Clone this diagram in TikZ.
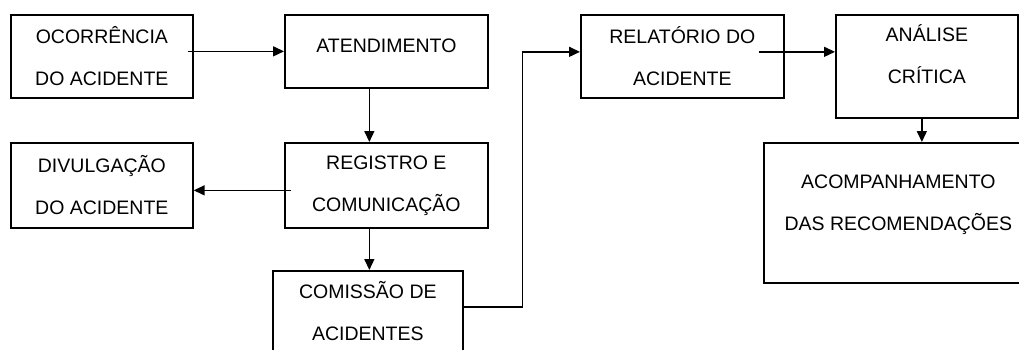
\documentclass[tikz,border=0pt]{standalone}
\usepackage{fontspec}
\setmainfont{Liberation Sans}
\usepackage{tikz}
\usetikzlibrary{arrows.meta,positioning}

\begin{document}
\begin{tikzpicture}[x=1pt,y=-1pt,
  caixa/.style={rectangle,draw,line width=1.7pt,anchor=north west,inner sep=0pt,align=center,font=\fontsize{19.5}{42}\selectfont},
  seta/.style={-{Triangle[length=11pt,width=10pt]},line width=1.5pt}]
\useasboundingbox (0,0) rectangle (1019,349);
\node[caixa,minimum width=182pt,minimum height=83pt] (oc) at (10,14) {OCORRÊNCIA\\DO ACIDENTE};
\node[caixa,minimum width=203pt,minimum height=73pt,text depth=11pt] (at) at (284,14) {ATENDIMENTO};
\node[caixa,minimum width=182pt,minimum height=85pt] (dv) at (10,142) {DIVULGAÇÃO\\DO ACIDENTE};
\node[caixa,minimum width=203pt,minimum height=85pt] (rg) at (284,142) {REGISTRO E\\COMUNICAÇÃO};
\node[caixa,minimum width=190pt,minimum height=80pt] (cm) at (272,270) {COMISSÃO DE\\ACIDENTES};
\node[caixa,minimum width=203pt,minimum height=83pt] (rl) at (580,14) {RELATÓRIO DO\\ACIDENTE};
\node[caixa,minimum width=182pt,minimum height=103pt,text depth=25pt] (an) at (835,14) {ANÁLISE\\CRÍTICA};
\node[caixa,minimum width=269pt,minimum height=140pt,text depth=20pt] (ac) at (763,142) {ACOMPANHAMENTO\\DAS RECOMENDAÇÕES};
% ligacoes
\draw[seta] ([xshift=-6pt]oc.east |- at.west) -- (at.west);
\draw[seta] ([xshift=-17pt]at.south) -- ([xshift=-17pt]at.south |- rg.north);
\draw[seta] ([xshift=7pt,yshift=-5pt]rg.west) -- ([yshift=-5pt]rg.west -| dv.east);
\draw[seta] ([xshift=-17pt]rg.south) -- ([xshift=-17pt]rg.south |- cm.north);
\draw[seta] ([yshift=4pt]cm.east) -- ++(59,0) |- ([yshift=4.5pt]rl.west);
\draw[seta] ([xshift=-26pt,yshift=4.5pt]rl.east) -- ([yshift=4.5pt]rl.east -| an.west);
\draw[seta] ([xshift=-5pt]an.south) -- ([xshift=-5pt]an.south |- ac.north);
\end{tikzpicture}
\end{document}
